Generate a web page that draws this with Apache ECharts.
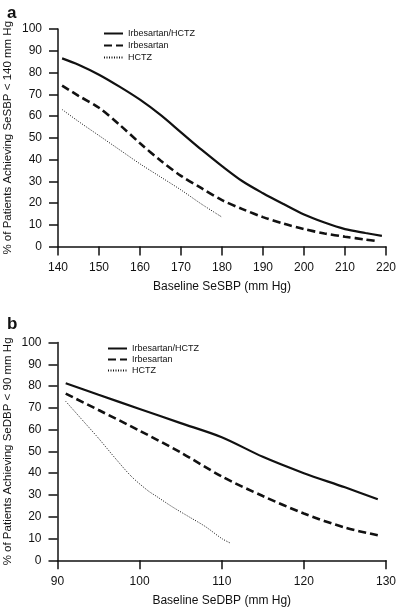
<!DOCTYPE html>
<html>
<head>
<meta charset="utf-8">
<script src="https://cdn.jsdelivr.net/npm/echarts@6/dist/echarts.min.js"></script>
<style>
html, body { margin: 0; padding: 0; background: #fff; }
#chart { width: 397px; height: 609px; }
</style>
</head>
<body>
<div id="chart"></div>
<script>
// panel a: baseline SeSBP
var sbpComboX = [141, 145, 150, 155, 160, 165, 170, 175, 180, 185, 190, 195, 200, 205, 210, 215, 219];
var sbpComboY = [86.5, 83.6, 79, 73.5, 67.5, 60.5, 52.5, 44.5, 37, 30, 24.5, 19.5, 14.7, 11, 8, 6.2, 4.9];
var sbpIrbX = [141, 145, 150, 155, 160, 165, 170, 175, 180, 185, 190, 195, 200, 205, 210, 215, 218];
var sbpIrbY = [74, 69.3, 63.8, 56, 47.5, 39.5, 32.5, 26.8, 21.3, 17.2, 13.5, 10.5, 8, 6, 4.5, 3.2, 2.4];
var sbpHctzX = [141, 145, 150, 155, 160, 165, 170, 175, 180];
var sbpHctzY = [63, 57.5, 51, 44.5, 38, 32, 26, 19.5, 13.5];

// panel b: baseline SeDBP
var dbpComboX = [91, 95, 100, 105, 110, 115, 120, 125, 129];
var dbpComboY = [81.3, 76, 69.5, 63, 56.5, 47.5, 40, 33.5, 28];
var dbpIrbX = [91, 95, 100, 105, 110, 115, 120, 125, 129];
var dbpIrbY = [76.5, 69, 59.5, 49.5, 38.5, 29.5, 21.5, 15, 11.5];
var dbpHctzX = [91, 93, 95, 97, 99, 101, 102, 104, 106, 108, 110, 111];
var dbpHctzY = [73, 64.5, 56, 47, 38.5, 32, 29.5, 24.5, 20, 15.5, 10, 8];

var yTicks = [0, 10, 20, 30, 40, 50, 60, 70, 80, 90, 100];
var names = ['Irbesartan/HCTZ', 'Irbesartan', 'HCTZ'];

function zip(xs, ys) {
	var out = [];
	for (var i = 0; i < xs.length; i++) {
		out.push([xs[i], ys[i]]);
	}
	return out;
}

var ink = '#111';
var font = 'Liberation Sans, Arial, sans-serif';

function xAx(idx, min, max, title) {
	return {
		gridIndex: idx,
		type: 'value',
		min: min,
		max: max,
		interval: 10,
		name: title,
		nameLocation: 'middle',
		nameGap: 34,
		nameMoveOverlap: false,
		nameTextStyle: { color: ink, fontSize: 12, fontFamily: font },
		axisLine: { lineStyle: { color: ink, width: 1.5 } },
		axisTick: { length: 9, lineStyle: { color: ink, width: 1.5 } },
		axisLabel: { color: ink, fontSize: 12, fontFamily: font, margin: 15 },
		splitLine: { show: false }
	};
}

function yAx(idx, title) {
	return {
		gridIndex: idx,
		type: 'value',
		min: yTicks[0],
		max: yTicks[yTicks.length - 1],
		interval: 10,
		name: title,
		nameLocation: 'middle',
		nameGap: 44,
		nameMoveOverlap: false,
		nameTextStyle: { color: ink, fontSize: 11.5, fontFamily: font },
		axisLine: { show: true, lineStyle: { color: ink, width: 1.5 } },
		axisTick: { show: true, length: 9, lineStyle: { color: ink, width: 1.5 } },
		axisLabel: { color: ink, fontSize: 12, fontFamily: font, margin: 16 },
		splitLine: { show: false }
	};
}

var styles = [
	{ color: ink, width: 2.2, type: 'solid' },
	{ color: ink, width: 2.6, type: [8, 4] },
	{ color: ink, width: 1, type: [1, 1.5] }
];

function line(idx, k, xs, ys) {
	return {
		name: names[k],
		type: 'line',
		xAxisIndex: idx,
		yAxisIndex: idx,
		data: zip(xs, ys),
		smooth: 0.3,
		symbol: 'none',
		lineStyle: styles[k],
		itemStyle: { color: ink, opacity: 0 },
		animation: false
	};
}

function legend(left, top, gap) {
	return {
		orient: 'vertical',
		left: left,
		top: top,
		itemWidth: 19,
		itemHeight: 10,
		itemGap: gap,
		itemStyle: { opacity: 0 },
		data: names,
		selectedMode: false,
		textStyle: { color: ink, fontSize: 9, fontFamily: font }
	};
}

var chart = echarts.init(document.getElementById('chart'));
chart.setOption({
	backgroundColor: '#fff',
	animation: false,
	title: [
		{ text: 'a', left: 2, top: 0, textStyle: { color: ink, fontSize: 17, fontWeight: 'bold', fontFamily: font } },
		{ text: 'b', left: 2, top: 311, textStyle: { color: ink, fontSize: 17, fontWeight: 'bold', fontFamily: font } }
	],
	legend: [legend(98, 24, 3), legend(102, 339, 2)],
	grid: [
		{ left: 58, top: 29, width: 328, height: 217.5, containLabel: false, outerBoundsMode: 'none' },
		{ left: 57.5, top: 342.5, width: 328.5, height: 217.8, containLabel: false, outerBoundsMode: 'none' }
	],
	xAxis: [
		xAx(0, 140, 220, 'Baseline SeSBP (mm Hg)'),
		xAx(1, 90, 130, 'Baseline SeDBP (mm Hg)')
	],
	yAxis: [
		yAx(0, '% of Patients Achieving SeSBP < 140 mm Hg'),
		yAx(1, '% of Patients Achieving SeDBP < 90 mm Hg')
	],
	series: [
		line(0, 0, sbpComboX, sbpComboY),
		line(0, 1, sbpIrbX, sbpIrbY),
		line(0, 2, sbpHctzX, sbpHctzY),
		line(1, 0, dbpComboX, dbpComboY),
		line(1, 1, dbpIrbX, dbpIrbY),
		line(1, 2, dbpHctzX, dbpHctzY)
	]
});
</script>
</body>
</html>
